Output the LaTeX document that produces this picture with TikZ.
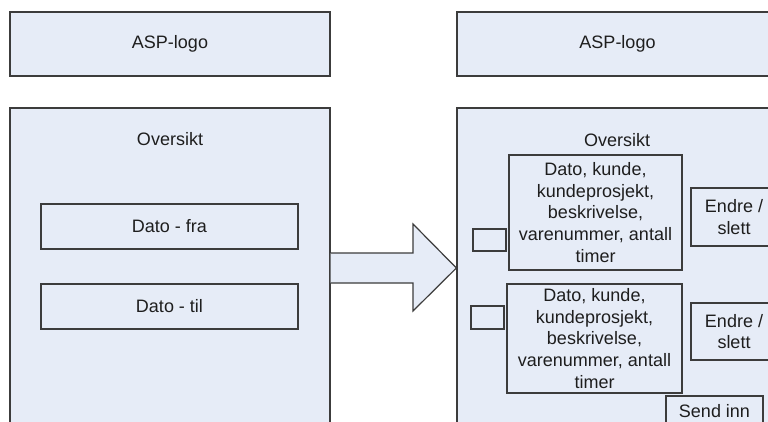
\documentclass[tikz,border=0pt]{standalone}
\usepackage{fontspec}
\setmainfont{Liberation Sans}
\definecolor{panel}{RGB}{230,236,247}
\definecolor{linegray}{RGB}{60,60,60}
\definecolor{textgray}{RGB}{30,30,30}
\begin{document}
\begin{tikzpicture}[x=1pt,y=-1pt,
  box/.style={draw=linegray, fill=panel, line width=1.2pt, inner sep=0pt,
    align=center, text=textgray, font=\fontsize{18}{21.7}\selectfont},
  caption/.style={inner sep=0pt, text=textgray, font=\fontsize{18}{21.7}\selectfont},
  blockarrow/.style={draw=linegray, fill=panel, line width=1.2pt, line join=miter}]
\clip (0,0) rectangle (768,421);
\fill[white] (0,0) rectangle (768,421);

% left screen: date filter
\node[box, minimum width=320, minimum height=64] (logoL) at (170,44) {ASP-logo};
\node[box, minimum width=320, minimum height=330] (mainL) at (170,273) {};
\node[caption] (ovL) at (170,139) {Oversikt};
\node[box, minimum width=257, minimum height=45] (fra) at (169.5,226.5) {Dato - fra};
\node[box, minimum width=257, minimum height=45] (til) at (169.5,306.5) {Dato - til};

% right screen: list of registered hours
\node[box, minimum width=321, minimum height=64] (logoR) at (617.5,44) {ASP-logo};
\node[box, minimum width=321, minimum height=330] (mainR) at (617.5,273) {};

% block arrow between the two screens
\draw[blockarrow] (mainL.east |- 0,253) -- (413,253) -- (413,224)
  -- (mainR.west |- 0,268) -- (413,311) -- (413,283) -- (mainL.east |- 0,283);

\node[caption] (ovR) at (617,140) {Oversikt};
\node[box, minimum width=173, minimum height=115] (rec1) at (595.5,212.5)
  {Dato, kunde,\\kundeprosjekt,\\beskrivelse,\\varenummer, antall\\timer};
\node[box, minimum width=175, minimum height=109] (rec2) at (594.5,338.5)
  {Dato, kunde,\\kundeprosjekt,\\beskrivelse,\\varenummer, antall\\timer};
\node[box, minimum width=33, minimum height=22] (chk1) at (489.5,240) {};
\node[box, minimum width=33, minimum height=23] (chk2) at (487.5,317.5) {};
\node[box, minimum width=86, minimum height=58] (edit1) at (734,217) {Endre /\\slett};
\node[box, minimum width=86, minimum height=57] (edit2) at (734,331.5) {Endre /\\slett};
\node[box, minimum width=97, minimum height=30] (send) at (714.5,411) {Send inn};
\end{tikzpicture}
\end{document}
